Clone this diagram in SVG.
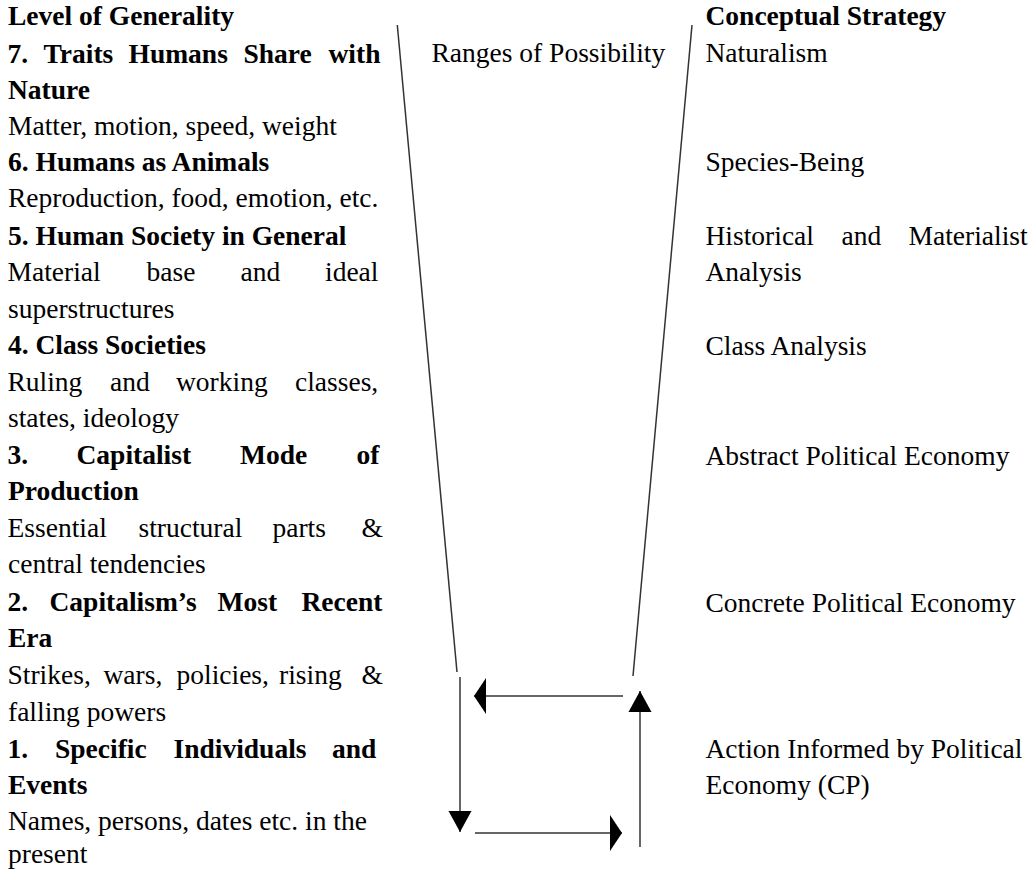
<svg xmlns="http://www.w3.org/2000/svg" width="1033" height="875" viewBox="0 0 1033 875">
  <style>
    text { font-family: "Liberation Serif", "Times New Roman", serif; font-size: 27.5px; fill: #000; }
    .b { font-weight: bold; }
    .edge { stroke: #333; stroke-width: 1.5; fill: none; }
  </style>
  <defs>
    <marker id="headV" markerUnits="userSpaceOnUse" markerWidth="21" markerHeight="23" refX="21" refY="11.5" orient="auto" overflow="visible">
      <path d="M0,0 L21,11.5 L0,23 Z" fill="#000"/>
    </marker>
    <marker id="headH" markerUnits="userSpaceOnUse" markerWidth="12" markerHeight="36" refX="12" refY="18" orient="auto" overflow="visible">
      <path d="M0,0 L12,18 L0,36 Z" fill="#000"/>
    </marker>
  </defs>
  <rect width="1033" height="875" fill="#fff"/>

  <!-- left column: levels of generality -->
  <g id="level-heading"><text class="b" x="8" y="25">Level of Generality</text></g>
  <g id="level-7">
    <text class="b" y="62.5"><tspan x="7.5">7.</tspan><tspan x="43.5">Traits</tspan><tspan x="128.5">Humans</tspan><tspan x="243.5">Share</tspan><tspan x="328.5">with</tspan></text>
    <text class="b" x="8" y="98.5">Nature</text>
    <text x="8" y="135">Matter, motion, speed, weight</text>
  </g>
  <g id="level-6">
    <text class="b" x="8" y="171">6. Humans as Animals</text>
    <text x="8" y="207">Reproduction, food, emotion, etc.</text>
  </g>
  <g id="level-5">
    <text class="b" x="8" y="244.5">5. Human Society in General</text>
    <text y="281"><tspan x="7.5">Material</tspan><tspan x="146.5">base</tspan><tspan x="240.5">and</tspan><tspan x="325">ideal</tspan></text>
    <text x="8" y="317.5">superstructures</text>
  </g>
  <g id="level-4">
    <text class="b" x="8" y="354">4. Class Societies</text>
    <text y="390.5"><tspan x="7.5">Ruling</tspan><tspan x="110">and</tspan><tspan x="176">working</tspan><tspan x="295">classes,</tspan></text>
    <text x="8" y="427">states, ideology</text>
  </g>
  <g id="level-3">
    <text class="b" y="463.5"><tspan x="7.5">3.</tspan><tspan x="76.5">Capitalist</tspan><tspan x="240">Mode</tspan><tspan x="356.5">of</tspan></text>
    <text class="b" x="8" y="500">Production</text>
    <text y="536.5"><tspan x="7.5">Essential</tspan><tspan x="138.5">structural</tspan><tspan x="272.5">parts</tspan><tspan x="361.5">&amp;</tspan></text>
    <text x="8" y="573">central tendencies</text>
  </g>
  <g id="level-2">
    <text class="b" y="610.5"><tspan x="7.5">2.</tspan><tspan x="49.5">Capitalism’s</tspan><tspan x="217.5">Most</tspan><tspan x="301.5">Recent</tspan></text>
    <text class="b" x="8" y="647">Era</text>
    <text y="684"><tspan x="7.5">Strikes,</tspan><tspan x="103.5">wars,</tspan><tspan x="176.5">policies,</tspan><tspan x="279">rising</tspan><tspan x="361.5">&amp;</tspan></text>
    <text x="8" y="720.5">falling powers</text>
  </g>
  <g id="level-1">
    <text class="b" y="757.5"><tspan x="7.5">1.</tspan><tspan x="55">Specific</tspan><tspan x="173.5">Individuals</tspan><tspan x="332">and</tspan></text>
    <text class="b" x="8" y="793.5">Events</text>
    <text x="8" y="829.5">Names, persons, dates etc. in the</text>
    <text x="8" y="863">present</text>
  </g>

  <!-- middle label -->
  <g id="ranges"><text x="431.5" y="62">Ranges of Possibility</text></g>

  <!-- right column: conceptual strategies -->
  <g id="strategy-heading"><text class="b" x="705.5" y="25">Conceptual Strategy</text></g>
  <g id="strategy-7"><text x="705.5" y="62">Naturalism</text></g>
  <g id="strategy-6"><text x="705.5" y="171">Species-Being</text></g>
  <g id="strategy-5">
    <text y="244.5"><tspan x="705.5">Historical</tspan><tspan x="841.5">and</tspan><tspan x="908.5">Materialist</tspan></text>
    <text x="705.5" y="281">Analysis</text>
  </g>
  <g id="strategy-4"><text x="705.5" y="354.5">Class Analysis</text></g>
  <g id="strategy-3"><text x="705.5" y="465">Abstract Political Economy</text></g>
  <g id="strategy-2"><text x="705.5" y="611.5">Concrete Political Economy</text></g>
  <g id="strategy-1">
    <text x="705.5" y="758">Action Informed by Political</text>
    <text x="705.5" y="793.5">Economy (CP)</text>
  </g>

  <!-- funnel walls and the cycle of arrows -->
  <g id="connectors">
    <line class="edge" x1="397.3" y1="25" x2="457" y2="672"/>
    <line class="edge" x1="692" y1="25" x2="633" y2="676"/>
    <line class="edge" x1="460" y1="677" x2="460" y2="832" marker-end="url(#headV)"/>
    <line class="edge" x1="475" y1="833" x2="622" y2="833" marker-end="url(#headH)"/>
    <line class="edge" x1="640" y1="847" x2="640" y2="691" marker-end="url(#headV)"/>
    <line class="edge" x1="623" y1="696" x2="474" y2="696" marker-end="url(#headH)"/>
  </g>
</svg>
